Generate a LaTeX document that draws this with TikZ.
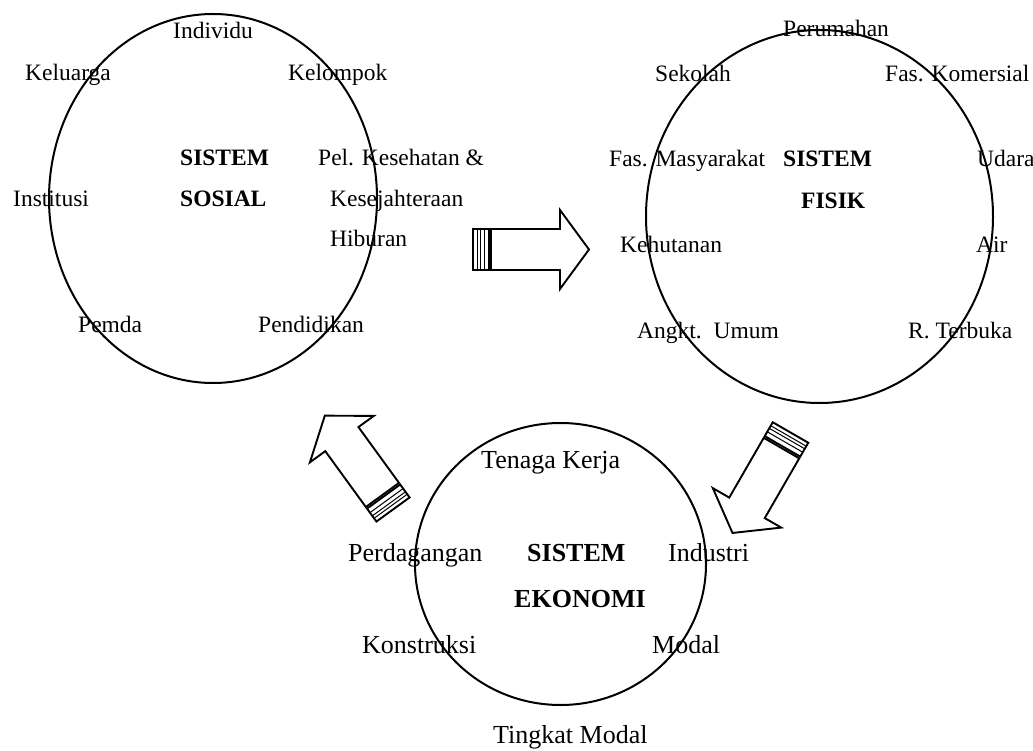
\documentclass[tikz,border=0pt]{standalone}
\usepackage{fontspec}
\setmainfont{Liberation Serif}
\tikzset{
  ring/.style={draw, line width=2pt},
  arrowline/.style={draw, line width=1.9pt, line join=miter, fill=white},
  stripe/.style={draw, line width=1pt},
  lbl/.style={anchor=base west, inner sep=0pt, font=\fontsize{23.5}{28}\selectfont},
  lblb/.style={anchor=base west, inner sep=0pt, font=\fontsize{23.5}{28}\selectfont\bfseries},
  elbl/.style={anchor=base west, inner sep=0pt, font=\fontsize{26}{30}\selectfont},
  elblb/.style={anchor=base west, inner sep=0pt, font=\fontsize{26}{30}\selectfont\bfseries},
  pics/capped arrow/.style={code={
    % hollow shaft and head
    \draw[arrowline] (18,-20.5) -- (87,-20.5) -- (87,-39.5) -- (116,0)
      -- (87,39.5) -- (87,20.5) -- (18,20.5) -- cycle;
    % ribbed tail cap
    \draw[arrowline] (0,-20.5) rectangle (16,20.5);
    \foreach \s in {4,7,11} \draw[stripe] (\s,-20.5) -- (\s,20.5);
  }}
}
\begin{document}
\begin{tikzpicture}[x=1pt,y=-1pt]
\useasboundingbox (0,0) rectangle (1033,751);

% ---- social system ----
\draw[ring] (213,198.5) ellipse [x radius=164, y radius=184.5];
\node[lbl]  (individu)  at (173,39)  {Individu};
\node[lbl]  (keluarga)  at (25,81)   {Keluarga};
\node[lbl]  (kelompok)  at (288,81)  {Kelompok};
\node[lblb] (sos1)      at (180,166) {SISTEM};
\node[lblb] (sos2)      at (180,207) {SOSIAL};
\node[lbl]  (pelkes)    at (318,166) {Pel. Kesehatan \&};
\node[lbl]  (kesej)     at (330,207) {Kesejahteraan};
\node[lbl]  (hiburan)   at (330,247) {Hiburan};
\node[lbl]  (institusi) at (13,207)  {Institusi};
\node[lbl]  (pemda)     at (78,332)  {Pemda};
\node[lbl]  (pendidik)  at (258,332) {Pendidikan};

% ---- physical system ----
\draw[ring] (819.5,216.5) ellipse [x radius=173.5, y radius=186.5];
\node[lbl]  (perumahan) at (783,37)  {Perumahan};
\node[lbl]  (sekolah)   at (655,82)  {Sekolah};
\node[lbl]  (faskom)    at (885,82)  {Fas. Komersial};
\node[lbl]  (fasmas)    at (609,167) {Fas. Masyarakat};
\node[lblb] (fis1)      at (783,167) {SISTEM};
\node[lblb] (fis2)      at (801,209) {FISIK};
\node[lbl]  (udara)     at (977,167) {Udara};
\node[lbl]  (kehutanan) at (620,253) {Kehutanan};
\node[lbl]  (air)       at (976,253) {Air};
\node[lbl]  (angkt)     at (637,338) {Angkt.\ \ Umum};
\node[lbl]  (rterbuka)  at (908,338) {R. Terbuka};

% ---- economic system ----
\draw[ring] (560.5,564) ellipse [x radius=145.5, y radius=141];
\node[elbl]  (tenaga)   at (481,468) {Tenaga Kerja};
\node[elbl]  (dagang)   at (348,561) {Perdagangan};
\node[elblb] (eko1)     at (527,561) {SISTEM};
\node[elbl]  (industri) at (668,561) {Industri};
\node[elblb] (eko2)     at (514,607) {EKONOMI};
\node[elbl]  (konstr)   at (362,653) {Konstruksi};
\node[elbl]  (modal)    at (652,653) {Modal};
\node[elbl]  (tingkat)  at (493,743) {Tingkat Modal};

% ---- flow arrows between the systems ----
\pic at (473,249.5) {capped arrow};
\pic[rotate=240] at (790.5,432.5) {capped arrow};
\pic[rotate=126] at (393,509.5) {capped arrow};
\end{tikzpicture}
\end{document}
